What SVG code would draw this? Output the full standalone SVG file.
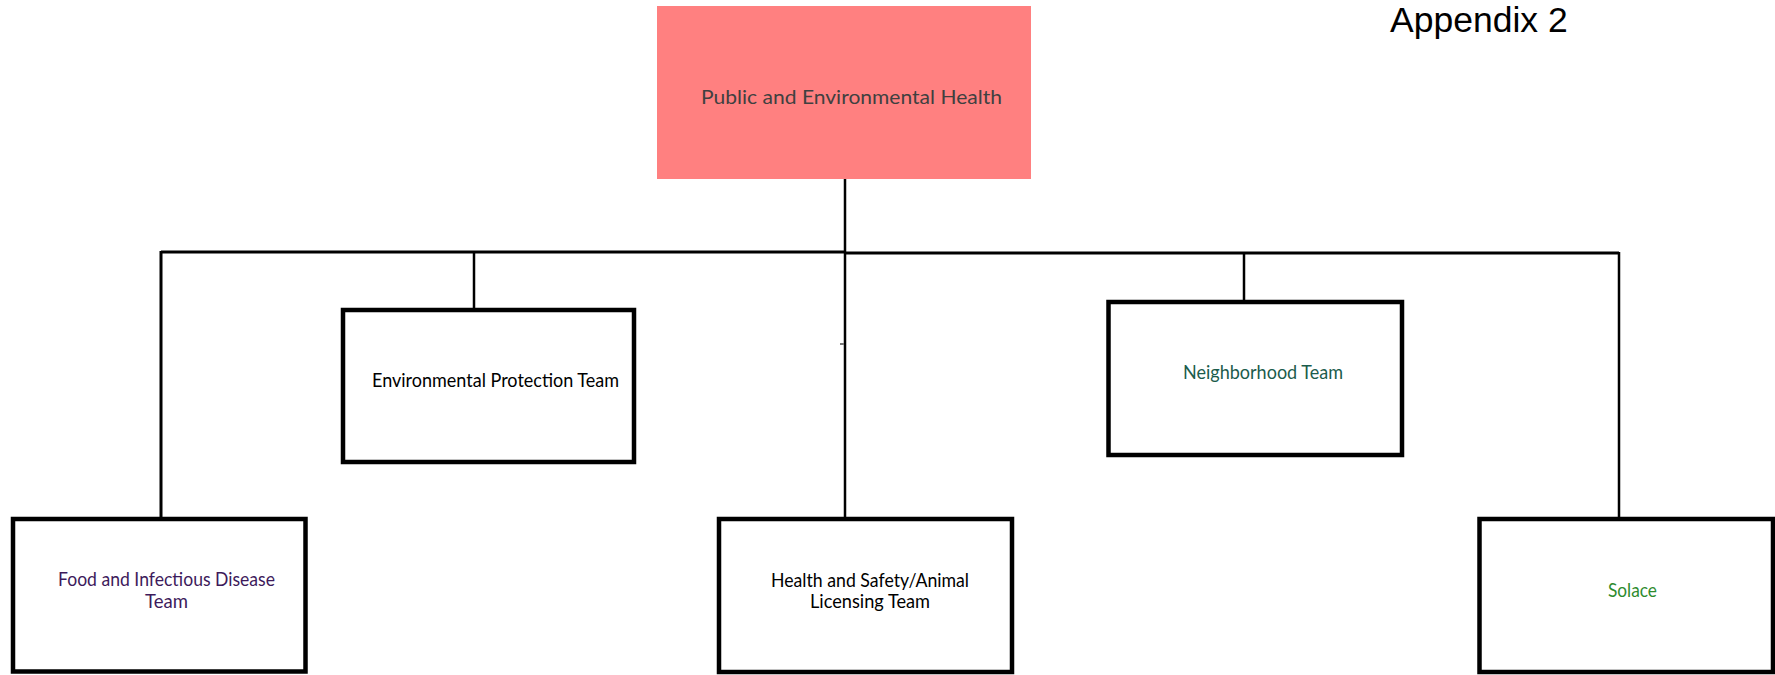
<svg xmlns="http://www.w3.org/2000/svg" width="1775" height="675" viewBox="0 0 1775 675">
<style>
.box{fill:#fff;stroke:#000;stroke-width:4.5}
.lbl{font-family:Lato,"Open Sans","Liberation Sans",sans-serif;font-size:19px}
.con{stroke:#000;fill:none}
</style>
<rect width="1775" height="675" fill="#fff"/>
<g id="connectors">
<path class="con" stroke-width="3" d="M161,252 H845 M845,253 H1619"/>
<path class="con" stroke-width="3" d="M161,251 V519"/>
<path class="con" stroke-width="2.5" d="M845,179 V519"/>
<path class="con" stroke-width="2.5" d="M474,251 V310"/>
<path class="con" stroke-width="2.5" d="M1244,252 V302"/>
<path class="con" stroke-width="2.5" d="M1619,252 V519"/>
<path stroke="#777" stroke-width="2" d="M840,344 H844"/>
</g>
<g id="title">
<text x="1390" y="32" font-family="'Liberation Sans',Arial,sans-serif" font-size="35.5" fill="#000">Appendix 2</text>
</g>
<g id="node-public">
<rect x="657" y="6" width="374" height="173" fill="#ff8080"/>
<text class="lbl" x="701" y="104" font-size="22.6" fill="#404040" textLength="301" lengthAdjust="spacingAndGlyphs">Public and Environmental Health</text>
</g>
<g id="node-env">
<rect class="box" x="343" y="310" width="291" height="152"/>
<text class="lbl" x="372" y="387" fill="#000" textLength="247" lengthAdjust="spacingAndGlyphs">Environmental Protection Team</text>
</g>
<g id="node-neighborhood">
<rect class="box" x="1108.5" y="302" width="293.5" height="153"/>
<text class="lbl" x="1183" y="379" fill="#1b5c4c" textLength="160" lengthAdjust="spacingAndGlyphs">Neighborhood Team</text>
</g>
<g id="node-food">
<rect class="box" x="13" y="519" width="292.5" height="152.5"/>
<text class="lbl" x="58" y="586" fill="#3d1a5b" textLength="217" lengthAdjust="spacingAndGlyphs">Food and Infectious Disease</text>
<text class="lbl" x="145" y="608" fill="#3d1a5b" textLength="43" lengthAdjust="spacingAndGlyphs">Team</text>
</g>
<g id="node-health">
<rect class="box" x="719" y="519" width="293" height="153"/>
<text class="lbl" x="771" y="587" fill="#000" textLength="198" lengthAdjust="spacingAndGlyphs">Health and Safety/Animal</text>
<text class="lbl" x="810" y="608" fill="#000" textLength="120" lengthAdjust="spacingAndGlyphs">Licensing Team</text>
</g>
<g id="node-solace">
<rect class="box" x="1479.5" y="519" width="293.5" height="153"/>
<text class="lbl" x="1608" y="597" fill="#2e8b2e" textLength="49" lengthAdjust="spacingAndGlyphs">Solace</text>
</g>
</svg>
